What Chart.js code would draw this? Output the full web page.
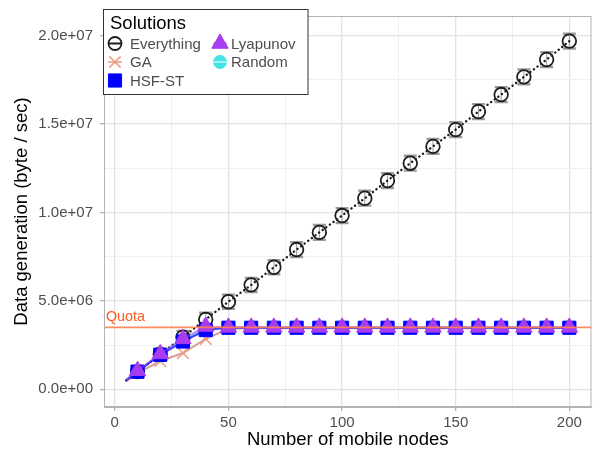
<!DOCTYPE html>
<html>
<head>
<meta charset="utf-8">
<script src="https://cdn.jsdelivr.net/npm/chart.js@4.4.1/dist/chart.umd.min.js"></script>
<style>
  html, body { margin: 0; padding: 0; background: #ffffff; }
  #wrap { width: 602px; height: 451px; position: relative; }
</style>
</head>
<body>
<div id="wrap"><canvas id="chart" width="602" height="451"></canvas></div>
<script>
// Number of mobile nodes (x); the first point only anchors the lines, no marker
const nodes = [5, 10, 20, 30, 40, 50, 60, 70, 80, 90, 100, 110, 120, 130, 140, 150, 160, 170, 180, 190, 200];

// Data generation (byte / sec) per solution
const everything = [0.5e6, 1.0e6, 1.98e6, 2.95e6, 3.95e6, 4.95e6, 5.9e6, 6.9e6, 7.9e6, 8.87e6, 9.82e6, 10.8e6, 11.8e6, 12.78e6, 13.73e6, 14.68e6, 15.7e6, 16.66e6, 17.66e6, 18.64e6, 19.68e6];
const everythingErr = [0.2e6, 0.3e6, 0.32e6, 0.35e6, 0.38e6, 0.4e6, 0.4e6, 0.4e6, 0.42e6, 0.42e6, 0.42e6, 0.42e6, 0.42e6, 0.42e6, 0.42e6, 0.42e6, 0.42e6, 0.42e6, 0.42e6, 0.42e6, 0.42e6];
const ga = [0.45e6, 0.92e6, 1.6e6, 2.05e6, 2.85e6, 3.42e6, 3.45e6, 3.45e6, 3.45e6, 3.45e6, 3.45e6, 3.45e6, 3.45e6, 3.45e6, 3.45e6, 3.45e6, 3.45e6, 3.45e6, 3.45e6, 3.45e6, 3.45e6];
const hsfSt = [0.5e6, 1.0e6, 1.95e6, 2.7e6, 3.35e6, 3.48e6, 3.48e6, 3.48e6, 3.48e6, 3.48e6, 3.48e6, 3.48e6, 3.48e6, 3.48e6, 3.48e6, 3.48e6, 3.48e6, 3.48e6, 3.48e6, 3.48e6, 3.48e6];
const lyapunov = [0.52e6, 1.05e6, 2.0e6, 2.85e6, 3.55e6, 3.5e6, 3.5e6, 3.5e6, 3.5e6, 3.5e6, 3.5e6, 3.5e6, 3.5e6, 3.5e6, 3.5e6, 3.5e6, 3.5e6, 3.5e6, 3.5e6, 3.5e6, 3.5e6];
const random = [0.56e6, 1.03e6, 1.98e6, 2.8e6, 3.45e6, 3.5e6, 3.5e6, 3.5e6, 3.5e6, 3.5e6, 3.5e6, 3.5e6, 3.5e6, 3.5e6, 3.5e6, 3.5e6, 3.5e6, 3.5e6, 3.5e6, 3.5e6, 3.5e6];

// Quota threshold
const quotaValue = 3.5e6;
const quotaLabel = 'Quota';

// Axis ticks
const xMajorTicks = [0, 50, 100, 150, 200];
const xMinorTicks = [25, 75, 125, 175];
const yMajorTicks = [0, 5e6, 10e6, 15e6, 20e6];
const yMinorTicks = [2.5e6, 7.5e6, 12.5e6, 17.5e6];

const FONT = '"Liberation Sans", Arial, Helvetica, sans-serif';
const C = {
  everything: '#1e1e1e',
  ga: '#e9967a',
  hsf: '#0000ff',
  lyap: '#a83cf0',
  random: '#45e3e3',
  quotaLine: '#ff7f50',
  quotaText: '#ff5a1f'
};

function sciLabel(v) {
  const s = v.toExponential(1);
  const m = s.match(/^(-?[\d.]+)e([+-])(\d+)$/);
  const exp = m[3].length < 2 ? '0' + m[3] : m[3];
  return m[1] + 'e' + m[2] + exp;
}

function pts(ys) { return nodes.map((x, i) => ({ x: x, y: ys[i] })); }
const markerRadius = (r) => (ctx) => (ctx.raw && ctx.raw.x < 10 ? 0 : r);

function series(label, ys, color, lineColor, style, r, opts) {
  return Object.assign({
    label: label,
    data: pts(ys),
    borderColor: lineColor,
    backgroundColor: color,
    pointStyle: style,
    pointRadius: markerRadius(r),
    pointHoverRadius: markerRadius(r),
    pointBackgroundColor: color,
    pointBorderColor: color,
    pointBorderWidth: 1,
    borderWidth: 2,
    tension: 0,
    fill: false
  }, opts || {});
}

const datasets = [
  series('Lyapunov', lyapunov, C.lyap, 'rgba(168,60,240,0.55)', 'triangle', 9.5, { order: 0 }),
  series('HSF-ST', hsfSt, C.hsf, 'rgba(0,0,255,0.75)', 'rect', 9.3, { order: 1 }),
  series('Random', random, C.random, 'rgba(69,227,227,0.7)', 'circle', 6.5, { order: 2 }),
  series('GA', ga, 'rgba(233,150,122,0.8)', 'rgba(200,120,110,0.7)', 'crossRot', 8.3, { order: 3, pointBorderWidth: 1.8 }),
  series('Everything', everything, 'rgba(0,0,0,0)', C.everything, 'circle', 6.8, {
    order: 4,
    pointBorderColor: C.everything,
    pointBorderWidth: 1.8,
    borderWidth: 2.4,
    borderDash: [0.1, 4.4],
    borderCapStyle: 'round'
  })
];

// Error bars for the "Everything" series, under the markers
const errorBars = {
  id: 'errorBars',
  beforeDatasetsDraw(chart) {
    const { ctx, scales: { x, y } } = chart;
    ctx.save();
    ctx.strokeStyle = '#9a9a9a';
    nodes.forEach((n, i) => {
      if (n < 10) return;
      const px = x.getPixelForValue(n);
      const lo = y.getPixelForValue(everything[i] - everythingErr[i]);
      const hi = y.getPixelForValue(everything[i] + everythingErr[i]);
      ctx.lineWidth = 1;
      ctx.beginPath(); ctx.moveTo(px, lo); ctx.lineTo(px, hi); ctx.stroke();
      ctx.lineWidth = 2.4;
      ctx.beginPath();
      ctx.moveTo(px - 6.5, lo); ctx.lineTo(px + 6.5, lo);
      ctx.moveTo(px - 6.5, hi); ctx.lineTo(px + 6.5, hi);
      ctx.stroke();
    });
    ctx.restore();
  }
};

// Horizontal quota line with its label
const quota = {
  id: 'quota',
  afterDatasetsDraw(chart) {
    const { ctx, chartArea: a, scales: { y } } = chart;
    const py = y.getPixelForValue(quotaValue);
    ctx.save();
    ctx.strokeStyle = C.quotaLine;
    ctx.globalAlpha = 0.9;
    ctx.lineWidth = 1.8;
    ctx.beginPath(); ctx.moveTo(a.left, py); ctx.lineTo(a.right, py); ctx.stroke();
    ctx.globalAlpha = 1;
    ctx.fillStyle = C.quotaText;
    ctx.font = '14.3px ' + FONT;
    ctx.textAlign = 'left';
    ctx.textBaseline = 'alphabetic';
    ctx.fillText(quotaLabel, a.left + 2, py - 6);
    ctx.restore();
  }
};

// Panel border and the two-column legend box
const frameAndLegend = {
  id: 'frameAndLegend',
  afterDraw(chart) {
    const { ctx, chartArea: a } = chart;
    ctx.save();
    ctx.strokeStyle = '#b3b3b3';
    ctx.lineWidth = 1;
    ctx.strokeRect(a.left + 0.5, a.top + 0.5, a.right - a.left - 1, a.bottom - a.top - 1);

    const bx = 103.5, by = 9.5, bw = 204.5, bh = 85;
    ctx.fillStyle = '#ffffff';
    ctx.fillRect(bx, by, bw, bh);
    ctx.strokeStyle = '#333333';
    ctx.lineWidth = 1;
    ctx.strokeRect(bx, by, bw, bh);

    ctx.fillStyle = '#000000';
    ctx.font = '18.5px ' + FONT;
    ctx.textAlign = 'left';
    ctx.textBaseline = 'alphabetic';
    ctx.fillText('Solutions', 110, 29);

    const items = [
      { label: 'Everything', col: 0, row: 0, style: 'circle', r: 6.5, fill: 'rgba(0,0,0,0)', stroke: C.everything, bw: 1.8, line: C.everything },
      { label: 'GA', col: 0, row: 1, style: 'crossRot', r: 8, fill: 'rgba(0,0,0,0)', stroke: 'rgba(233,150,122,0.85)', bw: 1.8, line: 'rgba(233,150,122,0.75)' },
      { label: 'HSF-ST', col: 0, row: 2, style: 'rect', r: 9.3, fill: C.hsf, stroke: C.hsf, bw: 1, line: C.hsf },
      { label: 'Lyapunov', col: 1, row: 0, style: 'triangle', r: 9.5, fill: C.lyap, stroke: C.lyap, bw: 1, line: 'rgba(168,60,240,0.55)' },
      { label: 'Random', col: 1, row: 1, style: 'circle', r: 6.5, fill: C.random, stroke: C.random, bw: 1, line: 'rgba(170,245,245,0.9)' }
    ];
    const iconX = [115, 220], textX = [130, 231], rowY = [43.5, 62, 80.5];
    ctx.font = '15px ' + FONT;
    ctx.textBaseline = 'middle';
    items.forEach((it) => {
      const cx = iconX[it.col], cy = rowY[it.row];
      ctx.fillStyle = it.fill;
      ctx.strokeStyle = it.stroke;
      ctx.lineWidth = it.bw;
      Chart.helpers.drawPoint(ctx, { pointStyle: it.style, radius: it.r, rotation: 0, borderWidth: it.bw }, cx, cy);
      ctx.strokeStyle = it.line;
      ctx.lineWidth = 2;
      ctx.beginPath(); ctx.moveTo(cx - 7, cy); ctx.lineTo(cx + 7, cy); ctx.stroke();
      ctx.fillStyle = '#4d4d4d';
      ctx.fillText(it.label, textX[it.col], cy + 1);
    });
    ctx.restore();
  }
};

const isMajorX = (v) => xMajorTicks.includes(v);
const isMajorY = (v) => yMajorTicks.includes(v);

new Chart(document.getElementById('chart'), {
  type: 'line',
  data: { datasets: datasets },
  plugins: [errorBars, quota, frameAndLegend],
  options: {
    responsive: false,
    animation: false,
    events: [],
    layout: { padding: { top: 9, right: 4, left: 0, bottom: 0 } },
    plugins: { legend: { display: false }, tooltip: { enabled: false } },
    scales: {
      x: {
        type: 'linear',
        min: -4.75,
        max: 209.75,
        afterBuildTicks(scale) {
          scale.ticks = xMajorTicks.concat(xMinorTicks).sort((a, b) => a - b).map((v) => ({ value: v }));
        },
        afterFit(scale) { scale.height = 44; },
        ticks: {
          autoSkip: false,
          maxRotation: 0,
          padding: 3,
          color: '#4d4d4d',
          font: { family: FONT, size: 15 },
          callback: (v) => (isMajorX(v) ? String(v) : '')
        },
        grid: {
          color: (c) => (isMajorX(c.tick.value) ? '#e2e2e2' : '#f0f0f0'),
          lineWidth: (c) => (isMajorX(c.tick.value) ? 1.3 : 1),
          tickColor: (c) => (isMajorX(c.tick.value) ? '#b3b3b3' : 'rgba(0,0,0,0)'),
          tickLength: 4,
          drawTicks: true
        },
        border: { display: true, color: '#b3b3b3' },
        title: {
          display: true,
          text: 'Number of mobile nodes',
          color: '#000000',
          font: { family: FONT, size: 18.5 },
          padding: { top: 0, bottom: 0 }
        }
      },
      y: {
        type: 'linear',
        min: -1.0e6,
        max: 21.1e6,
        afterBuildTicks(scale) {
          scale.ticks = yMajorTicks.concat(yMinorTicks).sort((a, b) => a - b).map((v) => ({ value: v }));
        },
        afterFit(scale) { scale.width = 104; },
        ticks: {
          autoSkip: false,
          padding: 7,
          color: '#4d4d4d',
          font: { family: FONT, size: 15 },
          callback: (v) => (isMajorY(v) ? sciLabel(v) : '')
        },
        grid: {
          color: (c) => (isMajorY(c.tick.value) ? '#e2e2e2' : '#f0f0f0'),
          lineWidth: (c) => (isMajorY(c.tick.value) ? 1.3 : 1),
          tickColor: (c) => (isMajorY(c.tick.value) ? '#b3b3b3' : 'rgba(0,0,0,0)'),
          tickLength: 4,
          drawTicks: true
        },
        border: { display: true, color: '#b3b3b3' },
        title: {
          display: true,
          text: 'Data generation (byte / sec)',
          color: '#000000',
          font: { family: FONT, size: 18.5 },
          padding: { top: 11, bottom: 0 }
        }
      }
    }
  }
});
</script>
</body>
</html>
